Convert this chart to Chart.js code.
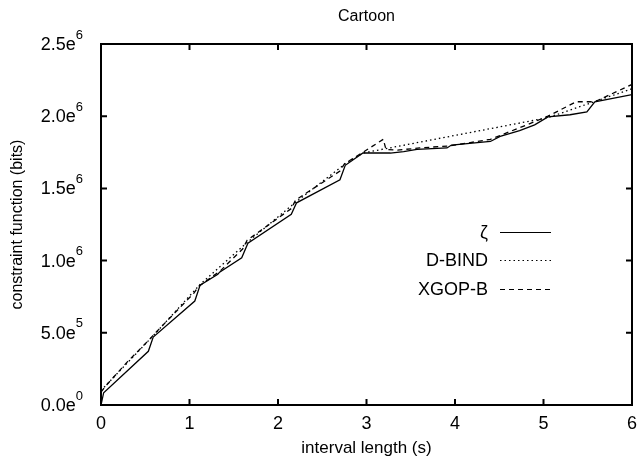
<!DOCTYPE html>
<html>
<head>
<meta charset="utf-8">
<script src="https://cdn.jsdelivr.net/npm/chart.js@4"></script>
<style>
  body { margin: 0; background: #fff; }
  canvas { display: block; }
</style>
</head>
<body>
<canvas id="chart" width="641" height="466"></canvas>
<script>
// values (y in bits)
const zetaX = [0, 0.03, 0.535, 0.59, 1.06, 1.12, 1.32, 1.34, 1.59, 1.66, 2.15, 2.21, 2.70, 2.76, 2.96, 3.27, 3.42, 3.57, 3.91, 3.96, 4.40, 4.51, 4.73, 4.90, 5.05, 5.30, 5.49, 5.58, 6.0];
const zetaY = [0, 0.085e6, 0.372e6, 0.47e6, 0.72e6, 0.83e6, 0.905e6, 0.92e6, 1.02e6, 1.12e6, 1.32e6, 1.40e6, 1.56e6, 1.66e6, 1.745e6, 1.745e6, 1.755e6, 1.77e6, 1.78e6, 1.80e6, 1.825e6, 1.86e6, 1.90e6, 1.94e6, 1.995e6, 2.01e6, 2.03e6, 2.10e6, 2.15e6];

const dbindX = [0, 0.59, 1.12, 1.66, 2.21, 2.76, 2.96, 5.05, 6.0];
const dbindY = [0.1e6, 0.48e6, 0.835e6, 1.13e6, 1.41e6, 1.67e6, 1.745e6, 1.99e6, 2.19e6];

const xgopX = [0, 0.05, 0.3, 0.55, 0.6, 1.05, 1.1, 1.35, 1.6, 1.65, 2.15, 2.2, 2.45, 2.7, 2.75, 2.96, 3.19, 3.22, 3.35, 3.6, 3.95, 4.4, 4.73, 5.05, 5.37, 5.58, 6.0];
const xgopY = [0.09e6, 0.13e6, 0.30e6, 0.455e6, 0.49e6, 0.775e6, 0.82e6, 0.93e6, 1.08e6, 1.14e6, 1.36e6, 1.42e6, 1.52e6, 1.62e6, 1.67e6, 1.75e6, 1.84e6, 1.77e6, 1.765e6, 1.78e6, 1.795e6, 1.84e6, 1.92e6, 2.0e6, 2.10e6, 2.10e6, 2.22e6];

const seriesNames = ["ζ", "D-BIND", "XGOP-B"];
const xTicks = [0, 1, 2, 3, 4, 5, 6];
const yTicks = [0, 0.5e6, 1.0e6, 1.5e6, 2.0e6, 2.5e6];
const yTickBase = ["0.0e", "5.0e", "1.0e", "1.5e", "2.0e", "2.5e"];
const yTickExp = ["0", "5", "6", "6", "6", "6"];

const FONT = "'Liberation Sans', Arial, sans-serif";
const dashes = [[], [1.5, 3], [5, 4]];

const toPoints = (xs, ys) => xs.map((x, i) => ({ x: x, y: ys[i] }));

// frame, inward ticks, labels and legend drawn gnuplot-like
const framePlugin = {
  id: "frame",
  afterDraw(chart) {
    const ctx = chart.ctx;
    const a = chart.chartArea;
    const xs = chart.scales.x;
    const ys = chart.scales.y;
    ctx.save();
    ctx.strokeStyle = "#000";
    ctx.fillStyle = "#000";
    ctx.lineWidth = 2;
    ctx.strokeRect(a.left, a.top, a.right - a.left, a.bottom - a.top);

    ctx.beginPath();
    xTicks.forEach((v) => {
      const px = xs.getPixelForValue(v);
      ctx.moveTo(px, a.bottom);
      ctx.lineTo(px, a.bottom - 6);
      ctx.moveTo(px, a.top);
      ctx.lineTo(px, a.top + 6);
    });
    yTicks.forEach((v) => {
      const py = ys.getPixelForValue(v);
      ctx.moveTo(a.left, py);
      ctx.lineTo(a.left + 6, py);
      ctx.moveTo(a.right, py);
      ctx.lineTo(a.right - 6, py);
    });
    ctx.stroke();

    // x tick labels
    ctx.font = "18px " + FONT;
    ctx.textAlign = "center";
    ctx.textBaseline = "middle";
    xTicks.forEach((v) => {
      ctx.fillText(String(v), xs.getPixelForValue(v), a.bottom + 19);
    });

    // y tick labels with superscript exponent
    yTicks.forEach((v, i) => {
      const py = ys.getPixelForValue(v);
      ctx.font = "13px " + FONT;
      const ew = ctx.measureText(yTickExp[i]).width;
      ctx.textAlign = "right";
      ctx.fillText(yTickExp[i], 83, py - 9);
      ctx.font = "18px " + FONT;
      ctx.fillText(yTickBase[i], 83 - ew, py + 1);
    });

    // title and axis titles
    const cx = (a.left + a.right) / 2;
    ctx.textAlign = "center";
    ctx.font = "16px " + FONT;
    ctx.fillText("Cartoon", cx, 17);
    ctx.font = "17px " + FONT;
    ctx.fillText("interval length (s)", cx, 448);
    ctx.save();
    ctx.translate(18, (a.top + a.bottom) / 2);
    ctx.rotate(-Math.PI / 2);
    ctx.font = "16px " + FONT;
    ctx.fillText("constraint function (bits)", 0, 0);
    ctx.restore();

    // legend
    seriesNames.forEach((name, i) => {
      const ly = Math.round(232 + i * 28.3) + 0.5;
      ctx.textAlign = "right";
      ctx.font = "18px " + FONT;
      ctx.fillText(name, 488, ly + 1);
      ctx.lineWidth = 1.2;
      ctx.setLineDash(dashes[i]);
      ctx.beginPath();
      ctx.moveTo(500, ly);
      ctx.lineTo(551, ly);
      ctx.stroke();
    });
    ctx.restore();
  },
};

const ctx = document.querySelector("#chart");
const makeSet = (label, pts, dash) => ({
  label: label,
  data: pts,
  showLine: true,
  borderColor: "#000",
  borderWidth: 1.3,
  borderDash: dash,
  pointRadius: 0,
  tension: 0,
  fill: false,
});

new Chart(ctx, {
  type: "scatter",
  data: {
    datasets: [
      makeSet(seriesNames[0], toPoints(zetaX, zetaY), dashes[0]),
      makeSet(seriesNames[1], toPoints(dbindX, dbindY), dashes[1]),
      makeSet(seriesNames[2], toPoints(xgopX, xgopY), dashes[2]),
    ],
  },
  options: {
    responsive: false,
    animation: false,
    devicePixelRatio: 1,
    layout: { padding: { left: 101, right: 9, top: 44, bottom: 61 } },
    plugins: {
      legend: { display: false },
      title: { display: false },
      tooltip: { enabled: false },
    },
    scales: {
      x: { type: "linear", min: 0, max: 6, display: false },
      y: { type: "linear", min: 0, max: 2.5e6, display: false },
    },
  },
  plugins: [framePlugin],
});
</script>
</body>
</html>
